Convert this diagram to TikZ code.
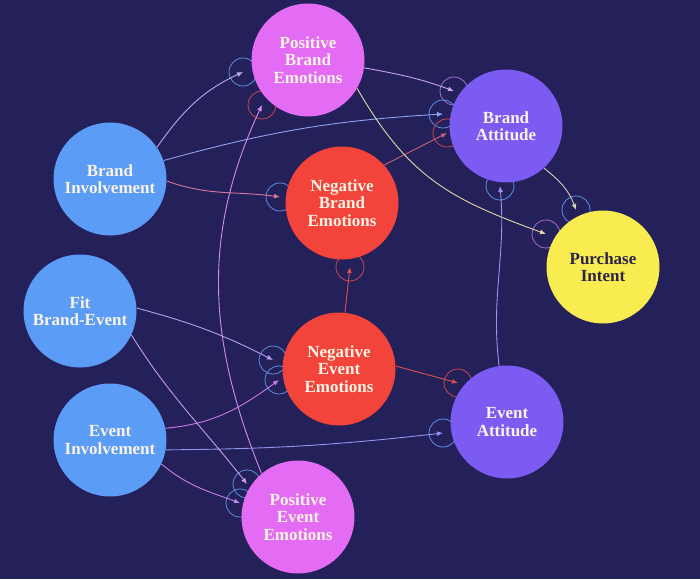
\documentclass[tikz,border=0pt]{standalone}
\usepackage{fontspec}
\setmainfont{Liberation Serif}
\usetikzlibrary{arrows.meta}
\pgfdeclarelayer{edges}
\pgfsetlayers{edges,main}
\definecolor{bgc}{HTML}{24205A}
\definecolor{bluen}{HTML}{5B9CF6}
\definecolor{pinkn}{HTML}{E46BF3}
\definecolor{redn}{HTML}{F2443A}
\definecolor{purpn}{HTML}{7B5BF2}
\definecolor{yelln}{HTML}{F8EC50}
\definecolor{txt}{HTML}{FBF3E4}
\definecolor{pitxt}{HTML}{2B2448}
\definecolor{pblue}{HTML}{5D8FE0}
\definecolor{pred}{HTML}{C9484F}
\definecolor{ppurp}{HTML}{A96AD8}
\definecolor{cBIPBE}{HTML}{B9A9F0}
\definecolor{cBIBA}{HTML}{8FA2F2}
\definecolor{cBINBE}{HTML}{D9789E}
\definecolor{cPBEBA}{HTML}{C8A3EA}
\definecolor{cNBEBA}{HTML}{C8607A}
\definecolor{cPBEPI}{HTML}{E4D8A8}
\definecolor{cBAPI}{HTML}{D8CFB0}
\definecolor{cEABA}{HTML}{A58DF2}
\definecolor{cNEE}{HTML}{E0504A}
\definecolor{cEIEA}{HTML}{8F95F0}
\definecolor{cFBENEE}{HTML}{B6A0EC}
\definecolor{cEINEE}{HTML}{C97AEB}
\definecolor{cFBEPEE}{HTML}{C79BEE}
\definecolor{cEIPEE}{HTML}{C583EE}
\definecolor{cPEEPBE}{HTML}{D38BF0}
\begin{document}
\begin{tikzpicture}[x=1pt,y=1pt,
  bubble/.style={circle, minimum size=113pt, inner sep=0pt, align=center,
    font=\fontsize{17}{17.5}\selectfont\bfseries, text=txt},
  port/.style={circle, line width=0.8pt, minimum size=28pt, inner sep=0pt},
  link/.style={line width=0.9pt, -{Latex[length=6pt,width=5pt]}}]
\useasboundingbox (0,0) rectangle (700,579);
% nodes
\node[bubble, fill=pinkn] (pbe) at (308,519) {Positive\\Brand\\Emotions};
\node[bubble, fill=purpn] (ba) at (506,453) {Brand\\Attitude};
\node[bubble, fill=redn] (nbe) at (342,376) {Negative\\Brand\\Emotions};
\node[bubble, fill=bluen] (bi) at (110,400) {Brand\\Involvement};
\node[bubble, fill=bluen] (fbe) at (80,268) {Fit\\Brand-Event};
\node[bubble, fill=bluen] (ei) at (110,139) {Event\\Involvement};
\node[bubble, fill=redn] (nee) at (339,210) {Negative\\Event\\Emotions};
\node[bubble, fill=purpn] (ea) at (507,157) {Event\\Attitude};
\node[bubble, fill=yelln, text=pitxt] (pi) at (603,312) {Purchase\\Intent};
\node[bubble, fill=pinkn] (pee) at (298,62) {Positive\\Event\\Emotions};
\begin{pgfonlayer}{edges}
\fill[bgc] (0,0) rectangle (700,579);
% ports
\node[port, draw=pblue] (pbe1) at (243,507) {};
\node[port, draw=pred] (pbe2) at (262,474) {};
\node[port, draw=ppurp] (ba1) at (454,488) {};
\node[port, draw=pblue] (ba2) at (443,465) {};
\node[port, draw=pred] (ba3) at (447,446) {};
\node[port, draw=pblue] (ba4) at (500,393) {};
\node[port, draw=ppurp] (pi1) at (546,345) {};
\node[port, draw=pblue] (pi2) at (576,369) {};
\node[port, draw=pblue] (nbe1) at (280,382) {};
\node[port, draw=pred] (nbe2) at (350,312) {};
\node[port, draw=pblue] (nee1) at (273,219) {};
\node[port, draw=pblue] (nee2) at (279,199) {};
\node[port, draw=pred] (ea1) at (458,196) {};
\node[port, draw=pblue] (ea2) at (443,146) {};
\node[port, draw=pblue] (pee1) at (247,95) {};
\node[port, draw=pblue] (pee2) at (240,76) {};
% links
\draw[link, cBIPBE] (bi.34) to[out=55,in=205] (pbe1.center);
\draw[link, cBIBA] (bi.19) to[bend left=6] (ba2.center);
\draw[link, cBINBE] (bi.-2) to[out=-20,in=172] (nbe1.center);
\draw[link, cPBEBA] (pbe.-8) to[out=-10,in=160] (ba1.center);
\draw[link, cNBEBA] (nbe.42) -- (ba3.center);
\draw[link, cPBEPI] (pbe.-30) to[out=-60,in=160,looseness=1.1] (pi1.center);
\draw[link, cBAPI] (ba.-48) to[out=-38,in=110] (pi2.center);
\draw[link, cEABA] (ea.98) to[out=97,in=-85] (ba4.center);
\draw[link, cNEE] (nee.84) -- (nbe2.center);
\draw[link, cNEE] (nee.3) -- (ea1.center);
\draw[link, cEIEA] (ei.-10) to[bend right=3] (ea2.center);
\draw[link, cFBENEE] (fbe.3) to[out=-15,in=153] (nee1.center);
\draw[link, cEINEE] (ei.12) to[out=5,in=216] (nee2.center);
\draw[link, cFBEPEE] (fbe.-25) to[out=-58,in=128] (pee1.center);
\draw[link, cEIPEE] (ei.-25) to[out=-40,in=160] (pee2.center);
\draw[link, cPEEPBE] (pee.130) to[out=112,in=-115] (pbe2.center);
\end{pgfonlayer}
\end{tikzpicture}
\end{document}
